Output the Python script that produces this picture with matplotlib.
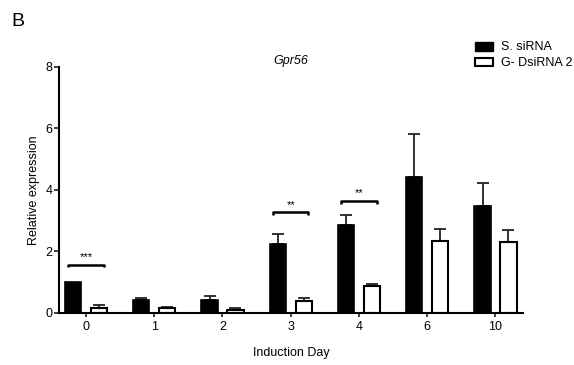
import matplotlib
matplotlib.use("Agg")
import matplotlib.pyplot as plt
from matplotlib.patches import Patch

plt.rcParams['font.family'] = ['Liberation Sans', 'DejaVu Sans']

days = ["0", "1", "2", "3", "4", "6", "10"]
ssirna = [1.0, 0.42, 0.42, 2.24, 2.86, 4.42, 3.49]
ssirna_err = [0.0, 0.08, 0.12, 0.34, 0.32, 1.41, 0.74]
dsirna = [0.15, 0.15, 0.10, 0.39, 0.87, 2.35, 2.32]
dsirna_err = [0.10, 0.05, 0.07, 0.11, 0.08, 0.37, 0.37]
sig_idx = [0, 3, 4]
sig_labels = ["***", "**", "**"]
sig_heights = [1.56, 3.27, 3.64]

fig = plt.figure(figsize=(5.74, 3.65), dpi=100)
ax = fig.add_axes([0.1028, 0.1425, 0.808, 0.674])

x = list(range(len(days)))
w = 0.24
off = 0.19
xb = [i - off for i in x]
xw = [i + off for i in x]
ax.bar(xb, ssirna, width=w, color='black', edgecolor='black', linewidth=1.2, zorder=2)
ax.bar(xw, dsirna, width=w, color='white', edgecolor='black', linewidth=1.5, zorder=2)
for xs, vals, errs in [(xb, ssirna, ssirna_err), (xw, dsirna, dsirna_err)]:
    for xi, v, e in zip(xs, vals, errs):
        if e > 0:
            ax.errorbar([xi], [v], yerr=[[0], [e]], fmt='none', ecolor='#222222',
                        elinewidth=1.3, capsize=4, capthick=1.3, zorder=1)

for i, lab, h in zip(sig_idx, sig_labels, sig_heights):
    x0, x1 = i - off - 0.07, i + off + 0.07
    ax.plot([x0, x0, x1, x1], [h - 0.08, h, h, h - 0.08], color='black', lw=1.8,
            solid_capstyle='butt', zorder=3)
    ax.text(i, h + 0.25, lab, ha='center', va='center', fontsize=8)

ax.set_xlim(-0.395, 6.4)
ax.set_ylim(0, 8)
ax.set_yticks([0, 2, 4, 6, 8])
ax.set_xticks(x)
ax.set_xticklabels(days)
ax.spines['top'].set_visible(False)
ax.spines['right'].set_visible(False)
ax.spines['left'].set_linewidth(1.5)
ax.spines['bottom'].set_linewidth(1.5)
ax.tick_params(axis='y', labelsize=9, width=1.3, length=3.5, pad=1, color='#333333')
ax.tick_params(axis='x', labelsize=9, width=1.3, length=3, pad=3, color='#333333')
ax.set_ylabel("Relative expression", fontsize=9, labelpad=4)
ax.set_xlabel("Induction Day", fontsize=9, labelpad=10)
ax.set_title("Gpr56", fontsize=9, style='italic', pad=2)

handles = [Patch(facecolor='black', edgecolor='black'),
           Patch(facecolor='white', edgecolor='black', linewidth=1.5)]
fig.legend(handles, ["S. siRNA", "G- DsiRNA 2"], loc='upper left',
           bbox_to_anchor=(0.818, 0.90), frameon=False, fontsize=9,
           handlelength=1.5, handleheight=0.7, handletextpad=0.6, labelspacing=0.3,
           borderaxespad=0)

fig.text(0.02, 0.965, "B", fontsize=14, va='top', ha='left')

fig.savefig("out.png", dpi=100)
